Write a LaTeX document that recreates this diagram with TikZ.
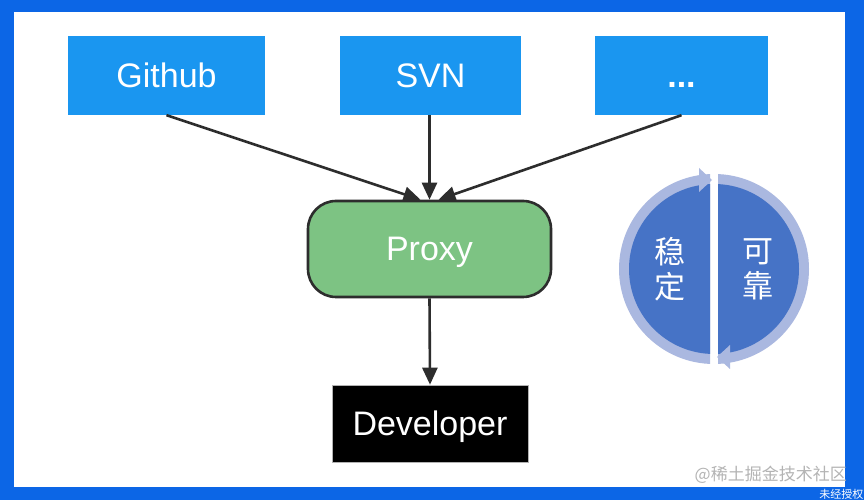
\documentclass[tikz,border=0pt]{standalone}
\usepackage{fontspec}
\setmainfont{Liberation Sans}
\newfontfamily\cjk{Noto Sans CJK SC}
\usetikzlibrary{arrows.meta,calc}
\definecolor{frameblue}{RGB}{12,102,230}
\definecolor{boxblue}{RGB}{26,150,240}
\definecolor{proxygreen}{RGB}{125,195,131}
\definecolor{linedark}{RGB}{45,45,45}
\definecolor{ringc}{RGB}{170,184,224}
\definecolor{halfblue}{RGB}{70,115,198}
\definecolor{wmgrey}{RGB}{180,180,180}
\tikzset{
  bigtext/.style={text=white, font=\fontsize{34}{38}\selectfont, text height=24pt, text depth=0pt},
  srcbox/.style={bigtext, fill=boxblue, draw=none, minimum height=79pt, inner sep=0pt},
  conn/.style={linedark, line width=2.6pt, -{Triangle[length=17pt,width=15pt]}},
  zh/.style={text=white, font=\cjk\fontsize{31}{36}\selectfont, align=center, inner sep=0pt}
}
\begin{document}
\begin{tikzpicture}[x=1pt,y=1pt]
\useasboundingbox (0,0) rectangle (864,500);
\fill[frameblue] (0,0) rectangle (864,500);
\fill[white] (14,13) rectangle (845,488);
% source boxes
\node[srcbox, minimum width=197pt] (github) at (166.5,424.5) {Github};
\node[srcbox, minimum width=181pt] (svn) at (430.5,424.5) {SVN};
\node[srcbox, minimum width=173pt] (dots) at (681.5,424.5) {\textbf{...}};
% proxy
\node[bigtext, fill=proxygreen, draw=linedark, line width=2.6pt, rounded corners=28pt,
      minimum width=243pt, minimum height=96pt] (proxy) at (429.5,251) {Proxy};
% developer
\node[bigtext, fill=black, draw=gray!60, line width=0.6pt, minimum width=196pt, minimum height=77pt] (dev) at (430,76.5) {Developer};
% connectors
\draw[conn] (github.south) -- ($(proxy.north)+(-9,0)$);
\draw[conn] (svn.south -| proxy.north) -- (proxy.north);
\draw[conn] (dots.south) -- ($(proxy.north)+(9,0)$);
\draw[conn] (proxy.south) -- (dev.north);
% circle
\coordinate (cc) at (714,231);
\begin{scope}
  \clip (600,100) rectangle (710,360);
  \fill[ringc] (cc) circle (95);
  \fill[halfblue] (cc) circle (85);
\end{scope}
\begin{scope}
  \clip (718,100) rectangle (830,360);
  \fill[ringc] (cc) circle (95);
  \fill[halfblue] (cc) circle (85);
\end{scope}
\fill[ringc] (699,332) -- (712,320) -- (699,308) -- cycle;
\fill[ringc] (730,155) -- (717,143) -- (730,131) -- cycle;
\node[zh] (wen) at (670,231) {稳\\[-1pt]定};
\node[zh] (kao) at (758,231) {可\\[-1pt]靠};
% watermark
\node[anchor=east, text=wmgrey, font=\cjk\fontsize{17}{20}\selectfont, inner sep=0pt] (wm) at (847,25) {@稀土掘金技术社区};
\node[anchor=south east, text=white, font=\cjk\fontsize{11}{12}\selectfont, inner sep=0.5pt] (wm2) at (864,0) {未经授权};
\end{tikzpicture}
\end{document}
